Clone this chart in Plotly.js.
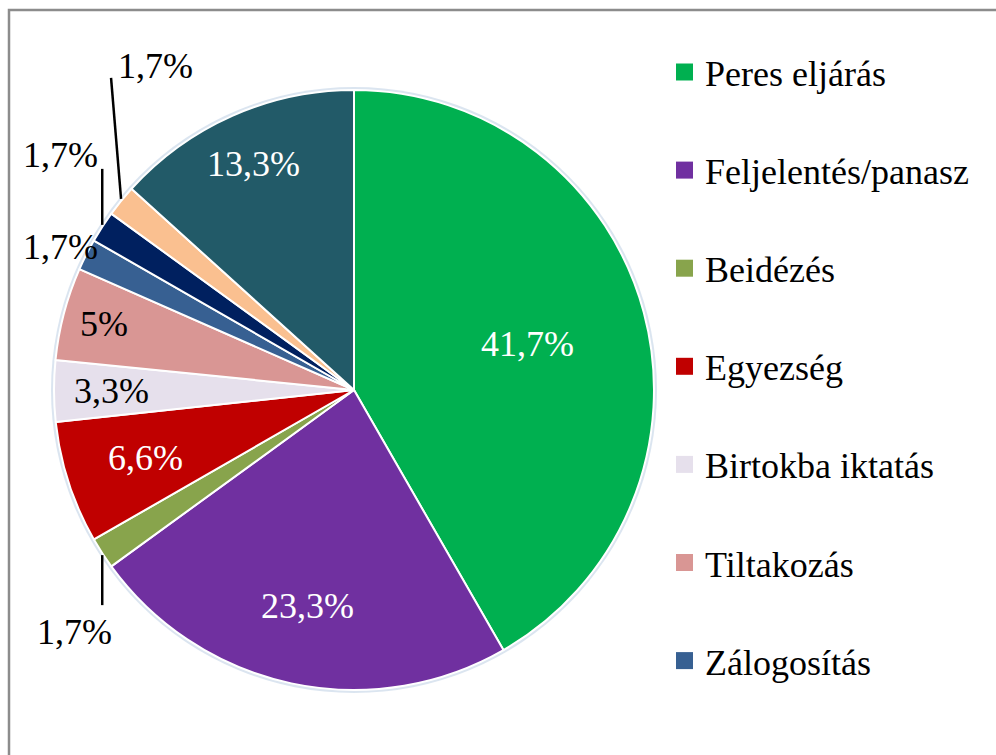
<!DOCTYPE html>
<html>
<head>
<meta charset="utf-8">
<script src="https://cdn.plot.ly/plotly-3.0.1.min.js"></script>
<style>html,body{margin:0;padding:0;background:#fff;}</style>
</head>
<body>
<div id="chart" style="width:996px;height:755px;"></div>
<script>
// ---- data ----
const labels = ['Peres eljárás', 'Feljelentés/panasz', 'Beidézés', 'Egyezség', 'Birtokba iktatás', 'Tiltakozás', 'Zálogosítás', 'Egyéb (8)', 'Egyéb (9)', 'Egyéb (10)'];
const values = [41.7, 23.3, 1.7, 6.6, 3.3, 5, 1.7, 1.7, 1.7, 13.3];
const colors = ['#00B050', '#7030A0', '#88A44C', '#C00000', '#E6E0EC', '#D99694', '#376092', '#00205F', '#FAC090', '#225A68'];
const legendCount = 7; // the original legend is cut off after 7 entries

// ---- styles (label placement) ----
const FONT = 'Liberation Serif, Times New Roman, serif';
const labelStyle = [
  {mode: 'in', f: 0.598, color: '#ffffff'},
  {mode: 'in', f: 0.737, color: '#ffffff'},
  {mode: 'out', dx: -28, dy: 79, line: [0, 52]},
  {mode: 'in', f: 0.73, color: '#ffffff'},
  {mode: 'in', f: 0.81, color: '#000000'},
  {mode: 'in', f: 0.863, color: '#000000'},
  {mode: 'out', dx: -26, dy: -8, line: null},
  {mode: 'out', dx: -42, dy: -72, line: [0, -58]},
  {mode: 'out', dx: 34, dy: -135, line: [-10, -123]},
  {mode: 'in', f: 0.825, color: '#ffffff'}
];

const W = 996, H = 755;
const pieDomX = [54 / W, 654 / W];
const pieDomY = [(H - 690) / H, (H - 90) / H];
const cx = (pieDomX[0] + pieDomX[1]) / 2 * W;
const cy = (1 - (pieDomY[0] + pieDomY[1]) / 2) * H;
const R = Math.min((pieDomX[1] - pieDomX[0]) * W, (pieDomY[1] - pieDomY[0]) * H) / 2;

const px = x => x / W;
const py = y => 1 - y / H;
const fmt = v => String(v).replace('.', ',') + '%';

const total = values.reduce((a, b) => a + b, 0);
const annotations = [];
const shapes = [];

// soft halo around the pie edge
shapes.push({type: 'circle', xref: 'paper', yref: 'paper', layer: 'below',
  x0: px(cx - R - 3), x1: px(cx + R + 3), y0: py(cy + R + 3), y1: py(cy - R - 3),
  fillcolor: 'rgba(190,208,228,0.55)', line: {width: 0}});

let cum = 0;
values.forEach((v, i) => {
  const mid = (cum + v / 2) / total * 2 * Math.PI;
  cum += v;
  const s = labelStyle[i];
  const ex = cx + R * Math.sin(mid), ey = cy - R * Math.cos(mid);
  if (s.mode === 'in') {
    const lx = cx + R * s.f * Math.sin(mid), ly = cy - R * s.f * Math.cos(mid);
    annotations.push({x: px(lx), y: py(ly), xref: 'paper', yref: 'paper', text: fmt(v), showarrow: false,
      xanchor: 'center', yanchor: 'middle', font: {family: FONT, size: 36, color: s.color}});
  } else {
    annotations.push({x: px(ex + s.dx), y: py(ey + s.dy), xref: 'paper', yref: 'paper', text: fmt(v), showarrow: false,
      xanchor: 'center', yanchor: 'middle', font: {family: FONT, size: 36, color: '#000000'}});
    if (s.line) {
      shapes.push({type: 'line', xref: 'paper', yref: 'paper', x0: px(ex), y0: py(ey + (s.line[1] > 0 ? 2 : -2)),
        x1: px(ex + s.line[0]), y1: py(ey + s.line[1]), line: {color: '#000000', width: 2.5}});
    }
  }
});

// legend (drawn manually to reproduce the wide spacing of the original)
for (let i = 0; i < legendCount; i++) {
  const rowY = 74 + 98.1 * i;
  shapes.push({type: 'rect', xref: 'paper', yref: 'paper', x0: px(676), x1: px(693), y0: py(rowY - 2 - 8.5), y1: py(rowY - 2 + 8.5),
    fillcolor: colors[i], line: {width: 0}});
  annotations.push({x: px(703), y: py(rowY), xref: 'paper', yref: 'paper', text: labels[i], showarrow: false,
    xanchor: 'left', yanchor: 'middle', font: {family: FONT, size: 36, color: '#000000'}});
}

// chart frame
shapes.push({type: 'rect', xref: 'paper', yref: 'paper', x0: px(9), x1: px(1010), y0: py(770), y1: py(10),
  line: {color: '#8C8C8C', width: 2.5}, fillcolor: 'rgba(0,0,0,0)', layer: 'below'});

const trace = {
  type: 'pie',
  labels: labels,
  values: values,
  sort: false,
  direction: 'clockwise',
  rotation: 0,
  marker: {colors: colors, line: {color: '#ffffff', width: 2}},
  textinfo: 'none',
  hoverinfo: 'label+percent',
  domain: {x: pieDomX, y: pieDomY},
  showlegend: false
};

const layout = {
  width: W, height: H,
  margin: {l: 0, r: 0, t: 0, b: 0},
  paper_bgcolor: '#ffffff',
  showlegend: false,
  annotations: annotations,
  shapes: shapes,
  font: {family: FONT}
};

Plotly.newPlot('chart', [trace], layout, {displayModeBar: false, staticPlot: true});
</script>
</body>
</html>
